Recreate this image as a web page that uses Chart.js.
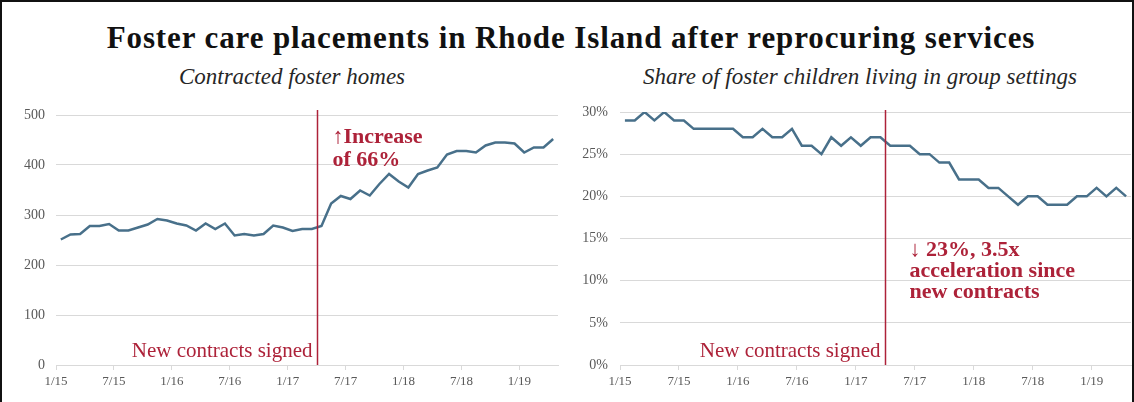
<!DOCTYPE html>
<html>
<head>
<meta charset="utf-8">
<script src="https://cdn.jsdelivr.net/npm/chart.js@4.4.1/dist/chart.umd.min.js"></script>
<style>
  body { margin: 0; background: #fff; }
  #frame { position: relative; width: 1134px; height: 402px; overflow: hidden; background: #fff; }
  #frame .edge { position: absolute; left: 0; top: 0; width: 1134px; height: 402px; box-sizing: border-box;
                 border: 2px solid #111; border-bottom: none; pointer-events: none; }
  h1 { position: absolute; left: 4px; top: 20px; width: 1134px; margin: 0; text-align: center;
       font: bold 31px "Liberation Serif"; letter-spacing: 0.9px; color: #111; }
  .sub { position: absolute; top: 64px; width: 520px; margin: 0; text-align: center;
         font: italic 23px/26px "Liberation Serif"; color: #262626; }
  .panel { position: absolute; top: 58px; width: 567px; height: 344px; }
</style>
</head>
<body>
<div id="frame">
  <h1>Foster care placements in Rhode Island after reprocuring services</h1>
  <div class="sub" style="left:32px">Contracted foster homes</div>
  <div class="sub" style="left:600px">Share of foster children living in group settings</div>
  <div class="panel" style="left:0"><canvas id="homesChart"></canvas></div>
  <div class="panel" style="left:567px"><canvas id="groupChart"></canvas></div>
  <div class="edge"></div>
</div>
<script>
// =========================
// DATA (monthly, 1/15 .. 4/19)
// =========================
const TICK_LABELS = ['1/15','7/15','1/16','7/16','1/17','7/17','1/18','7/18','1/19'];

// contracted foster homes
const HOMES = [
  251,261,262,278,278,282,269,269,275,281,292,289,
  283,279,269,283,272,283,259,262,259,262,279,275,
  268,272,272,278,323,338,332,349,339,362,382,367,
  355,382,389,395,421,428,428,425,439,445,445,443,
  425,435,435,452
];

// share of foster children in group settings, %
const GROUP_SHARE = [
  29,29,30,29,30,29,29,28,28,28,28,28,
  27,27,28,27,27,28,26,26,25,27,26,27,
  26,27,27,26,26,26,25,25,24,24,22,22,
  22,21,21,20,19,20,20,19,19,19,20,20,
  21,20,21,20
];

// month index where the new contracts start (4/17)
const CONTRACTS_SIGNED = 27;

const RED = '#ad2239';
const LINE = '#48708a';
const GRID = '#d9d9d9';
const TICK = '#595959';
const SERIF = '"Liberation Serif"';

// =========================
// vertical marker + notes
// =========================
const contractPlugin = {
  id: 'contracts',
  afterDatasetsDraw(chart, args, o) {
    const { ctx, chartArea: a, scales: { x } } = chart;
    const px = Math.round(x.getPixelForValue(o.at)) + 0.5;
    ctx.save();
    ctx.strokeStyle = RED;
    ctx.lineWidth = 1.5;
    ctx.beginPath();
    ctx.moveTo(px, a.top - o.rise);
    ctx.lineTo(px, a.bottom);
    ctx.stroke();

    ctx.fillStyle = RED;
    ctx.textBaseline = 'alphabetic';
    ctx.font = '21px ' + SERIF;
    ctx.textAlign = 'right';
    ctx.fillText(o.label, px - 5, a.bottom - 8);

    ctx.font = 'bold 22px ' + SERIF;
    ctx.textAlign = 'left';
    o.note.forEach((line, k) => {
      ctx.fillText(line, px + o.noteDx, a.top + o.noteDy + k * o.noteGap);
    });
    ctx.restore();
  }
};

function xScale() {
  return {
    type: 'linear',
    min: 0,
    max: HOMES.length,
    afterBuildTicks: s => { s.ticks = TICK_LABELS.map((_, k) => ({ value: k * 6 })); },
    afterFit: s => { s.height = 37; },
    border: { display: true, color: GRID },
    grid: { drawOnChartArea: false, drawTicks: true, tickLength: 5, color: GRID },
    ticks: {
      autoSkip: false, maxRotation: 0, padding: 4,
      color: TICK, font: { family: SERIF, size: 13 },
      callback: (v, i) => TICK_LABELS[i]
    }
  };
}

// =========================
// CONTRACTED FOSTER HOMES
// =========================
new Chart(document.getElementById('homesChart'), {
  type: 'line',
  data: {
    datasets: [{
      data: HOMES.map((v, i) => ({ x: i + 0.5, y: v })),
      borderColor: LINE,
      borderWidth: 2.5,
      pointRadius: 0,
      tension: 0
    }]
  },
  options: {
    animation: false,
    responsive: true,
    maintainAspectRatio: false,
    layout: { padding: { left: 0, right: 9, top: 57, bottom: 0 } },
    plugins: {
      legend: { display: false },
      tooltip: { enabled: false },
      contracts: {
        at: CONTRACTS_SIGNED, rise: 5,
        label: 'New contracts signed',
        note: ['\u2191Increase', 'of 66%'],
        noteDx: 15, noteDy: 28, noteGap: 23
      }
    },
    scales: {
      x: xScale(),
      y: {
        min: 0, max: 500,
        afterFit: s => { s.width = 56; },
        border: { display: false },
        grid: { color: GRID, drawTicks: false },
        ticks: { stepSize: 100, padding: 11, color: TICK, font: { family: SERIF, size: 14 } }
      }
    }
  },
  plugins: [contractPlugin]
});

// =========================
// SHARE IN GROUP SETTINGS
// =========================
new Chart(document.getElementById('groupChart'), {
  type: 'line',
  data: {
    datasets: [{
      data: GROUP_SHARE.map((v, i) => ({ x: i + 0.5, y: v })),
      borderColor: LINE,
      borderWidth: 2.5,
      pointRadius: 0,
      tension: 0
    }]
  },
  options: {
    animation: false,
    responsive: true,
    maintainAspectRatio: false,
    layout: { padding: { left: 0, right: 3, top: 54, bottom: 0 } },
    plugins: {
      legend: { display: false },
      tooltip: { enabled: false },
      contracts: {
        at: CONTRACTS_SIGNED, rise: 2,
        label: 'New contracts signed',
        note: ['\u2193 23%, 3.5x', 'acceleration since', 'new contracts'],
        noteDx: 24, noteDy: 144, noteGap: 21
      }
    },
    scales: {
      x: xScale(),
      y: {
        min: 0, max: 30,
        afterFit: s => { s.width = 53; },
        border: { display: false },
        grid: { color: GRID, drawTicks: false },
        ticks: { stepSize: 5, padding: 12, color: TICK, font: { family: SERIF, size: 14 },
                 callback: v => v + '%' }
      }
    }
  },
  plugins: [contractPlugin]
});
</script>
</body>
</html>
